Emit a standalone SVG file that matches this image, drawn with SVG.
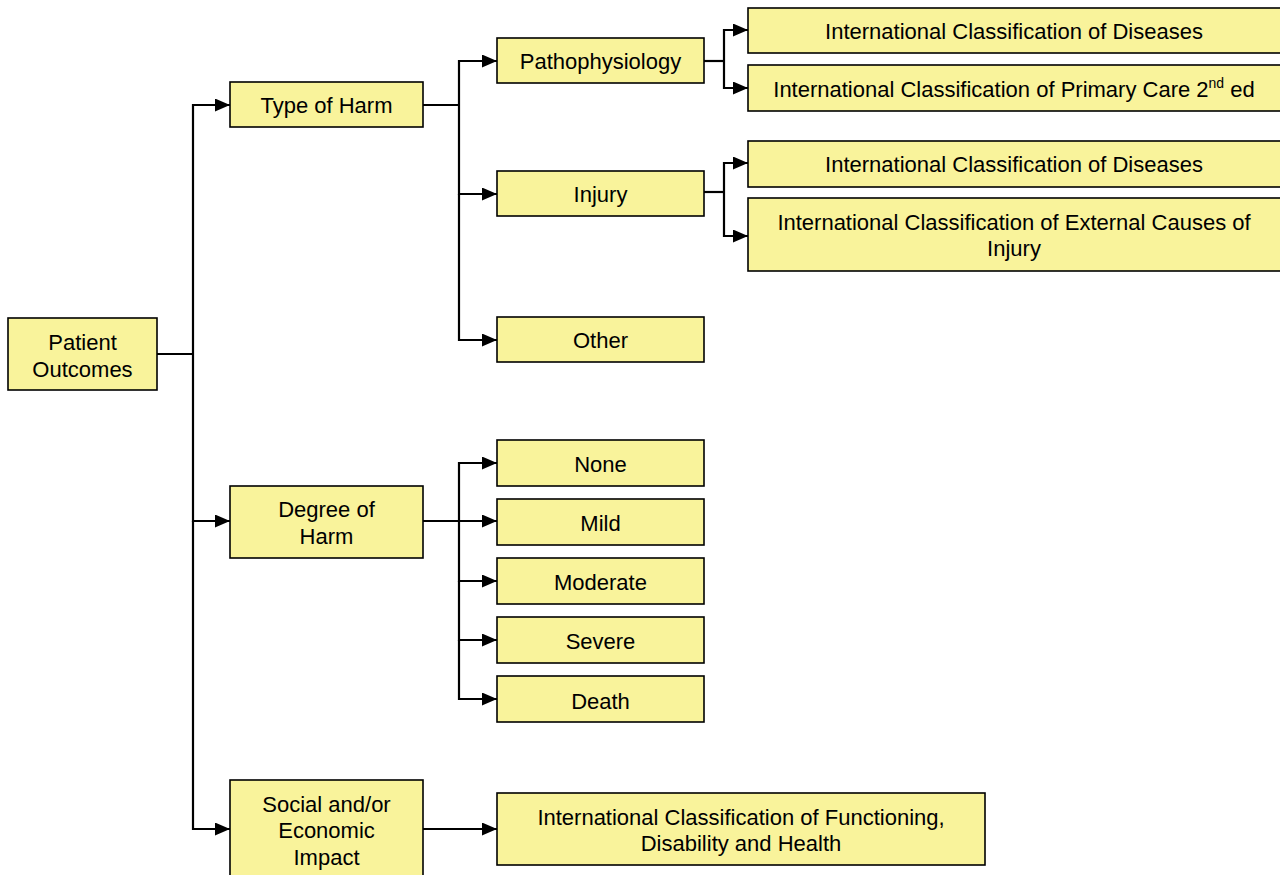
<svg xmlns="http://www.w3.org/2000/svg" width="1280" height="875" viewBox="0 0 1280 875">
<style>
.box{fill:#F9F39B;stroke:#000;stroke-width:1.6}
.t{font-family:"Liberation Sans",Arial,sans-serif;font-size:22px;fill:#000;text-anchor:middle}
.c{fill:none;stroke:#000;stroke-width:2.2;marker-end:url(#ah)}
.l{fill:none;stroke:#000;stroke-width:2.2}
</style>
<defs>
<marker id="ah" viewBox="0 0 15 13" refX="15" refY="6.5" markerWidth="15" markerHeight="13" markerUnits="userSpaceOnUse" orient="auto">
<path d="M0,0 L15,6.5 L0,13 z" fill="#000"/>
</marker>
</defs>
<rect width="1280" height="875" fill="#fff"/>
<g id="connectors">
<path class="l" d="M157,354 H193"/>
<path class="c" d="M193,354 V105 H230"/>
<path class="c" d="M193,354 V521 H230"/>
<path class="c" d="M193,521 V829 H230"/>
<path class="l" d="M423,105 H459"/>
<path class="c" d="M459,105 V61 H497"/>
<path class="c" d="M459,105 V194 H497"/>
<path class="c" d="M459,194 V340 H497"/>
<path class="l" d="M704,61 H724"/>
<path class="c" d="M724,61 V30 H748"/>
<path class="c" d="M724,61 V88 H748"/>
<path class="l" d="M704,192 H724"/>
<path class="c" d="M724,192 V163 H748"/>
<path class="c" d="M724,192 V236 H748"/>
<path class="l" d="M423,521 H459"/>
<path class="c" d="M459,521 V463 H497"/>
<path class="c" d="M459,521 H497"/>
<path class="c" d="M459,521 V581 H497"/>
<path class="c" d="M459,581 V640 H497"/>
<path class="c" d="M459,640 V699 H497"/>
<path class="c" d="M423,829 H497"/>
</g>
<g id="patient-outcomes"><rect class="box" x="8" y="318" width="149" height="72"/><text class="t" x="82.5" y="350">Patient</text><text class="t" x="82.5" y="377">Outcomes</text></g>
<g id="type-of-harm"><rect class="box" x="230" y="82" width="193" height="45"/><text class="t" x="326.5" y="113">Type of Harm</text></g>
<g id="degree-of-harm"><rect class="box" x="230" y="486" width="193" height="72"/><text class="t" x="326.5" y="517">Degree of</text><text class="t" x="326.5" y="544">Harm</text></g>
<g id="social-economic"><rect class="box" x="230" y="780" width="193" height="100"/><text class="t" x="326.5" y="812">Social and/or</text><text class="t" x="326.5" y="838">Economic</text><text class="t" x="326.5" y="865">Impact</text></g>
<g id="pathophysiology"><rect class="box" x="497" y="38" width="207" height="45"/><text class="t" x="600.5" y="69">Pathophysiology</text></g>
<g id="injury"><rect class="box" x="497" y="171" width="207" height="45"/><text class="t" x="600.5" y="202">Injury</text></g>
<g id="other"><rect class="box" x="497" y="317" width="207" height="45"/><text class="t" x="600.5" y="348">Other</text></g>
<g id="none"><rect class="box" x="497" y="440" width="207" height="46"/><text class="t" x="600.5" y="472">None</text></g>
<g id="mild"><rect class="box" x="497" y="499" width="207" height="46"/><text class="t" x="600.5" y="531">Mild</text></g>
<g id="moderate"><rect class="box" x="497" y="558" width="207" height="46"/><text class="t" x="600.5" y="590">Moderate</text></g>
<g id="severe"><rect class="box" x="497" y="617" width="207" height="46"/><text class="t" x="600.5" y="649">Severe</text></g>
<g id="death"><rect class="box" x="497" y="676" width="207" height="46"/><text class="t" x="600.5" y="709">Death</text></g>
<g id="icd-1"><rect class="box" x="748" y="8" width="535" height="45"/><text class="t" x="1014" y="39">International Classification of Diseases</text></g>
<g id="icpc"><rect class="box" x="748" y="65" width="535" height="46"/><text class="t" x="1014" y="97">International Classification of Primary Care 2<tspan dy="-9" font-size="14">nd</tspan><tspan dy="9"> ed</tspan></text></g>
<g id="icd-2"><rect class="box" x="748" y="141" width="535" height="46"/><text class="t" x="1014" y="172">International Classification of Diseases</text></g>
<g id="iceci"><rect class="box" x="748" y="198" width="535" height="73"/><text class="t" x="1014" y="230">International Classification of External Causes of</text><text class="t" x="1014" y="256">Injury</text></g>
<g id="icf"><rect class="box" x="497" y="793" width="488" height="72"/><text class="t" x="741" y="825">International Classification of Functioning,</text><text class="t" x="741" y="851">Disability and Health</text></g>
</svg>
